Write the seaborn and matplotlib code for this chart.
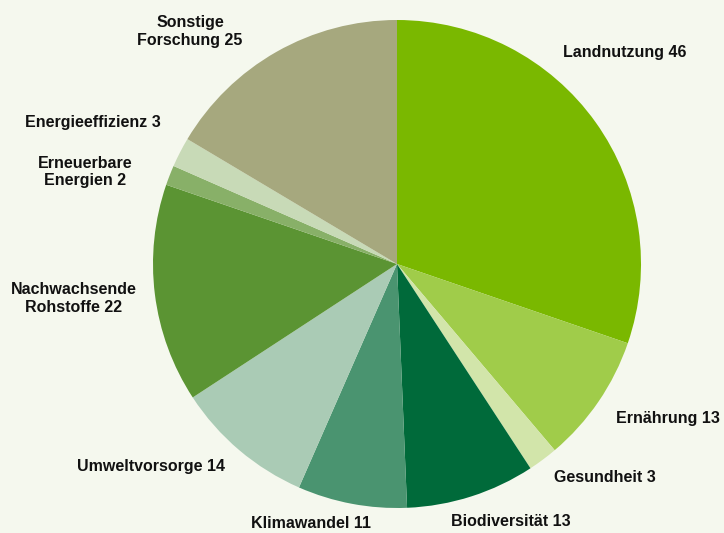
import matplotlib
matplotlib.use("Agg")
import matplotlib.pyplot as plt
import seaborn as sns

# ---------------- Daten ----------------
kategorien = ["Landnutzung", "Ernährung", "Gesundheit", "Biodiversität", "Klimawandel",
              "Umweltvorsorge", "Nachwachsende\nRohstoffe", "Erneuerbare\nEnergien",
              "Energieeffizienz", "Sonstige\nForschung"]
werte = [46, 13, 3, 13, 11, 14, 22, 2, 3, 25]

farben = ["#7AB800", "#A0CC4A", "#D2E5AA", "#006A3A", "#4A9470",
          "#AACBB5", "#5B9433", "#88B068", "#C8DAB7", "#A6A87E"]

# Beschriftungspositionen (Pixel im Bild, Mitte des Textes)
label_px = [(625, 52), (668, 418), (605, 478), (511, 522), (311, 524),
            (151, 467), (74, 298), (85, 172), (93, 123), (190, 31)]

# ---------------- Stil ----------------
sns.set_theme(style="white")
plt.rcParams['font.family'] = ['Liberation Sans', 'DejaVu Sans']
hintergrund = "#F5F8EE"

fig = plt.figure(figsize=(7.24, 5.33), dpi=100, facecolor=hintergrund)
ax = fig.add_axes([0, 0, 1, 1])
ax.set_facecolor(hintergrund)

# Mittelpunkt und Radius in Pixel
cx, cy, r = 397, 264, 244

ax.pie(werte, colors=farben, startangle=90, counterclock=False,
       wedgeprops=dict(linewidth=0), radius=1)

ax.set_xlim(-cx / r, (724 - cx) / r)
ax.set_ylim(-(533 - cy) / r, cy / r)
ax.set_aspect("equal")
ax.axis("off")

for name, wert, (px, py) in zip(kategorien, werte, label_px):
    ax.text((px - cx) / r, (cy - py) / r, f"{name} {wert}", ha="center", va="center",
            fontsize=11.5, fontweight="bold", color="#111111", linespacing=1.25)

fig.savefig("out.png", dpi=100, facecolor=hintergrund)
